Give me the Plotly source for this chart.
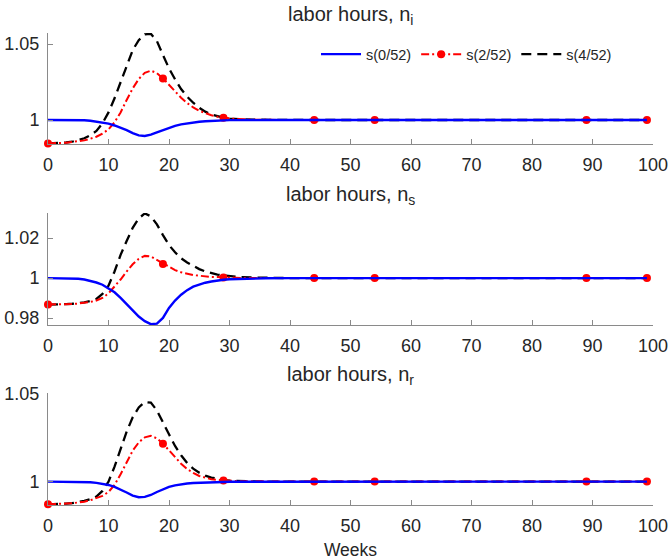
import plotly.graph_objects as go
from plotly.subplots import make_subplots

# ---------------- data ----------------
weeks = [0, 1, 2, 3, 4, 5, 6, 7, 8, 9, 10, 11, 12, 13, 14, 15, 16, 17, 18, 19,
         20, 21, 22, 23, 24, 25, 26, 27, 28, 29, 30, 31, 32, 34, 36, 40, 44, 54, 89, 99]
marker_weeks = [0, 19, 29, 44, 54, 89, 99]
series_names = ["s(0/52)", "s(2/52)", "s(4/52)"]
panel_titles = ["labor hours, n<sub>i</sub>", "labor hours, n<sub>s</sub>", "labor hours, n<sub>r</sub>"]
x_tick_vals = [0, 10, 20, 30, 40, 50, 60, 70, 80, 90, 100]

# panel 1: n_i
ni_s0 = [1.0, 1.0, 1.0, 1.0, 1.0, 1.0, 0.9998, 0.9995, 0.999, 0.9984, 0.9976, 0.9964, 0.995, 0.9933,
         0.9914, 0.9899, 0.9895, 0.9904, 0.9919, 0.9935, 0.995, 0.9962, 0.9971, 0.9978, 0.9984,
         0.9989, 0.9992, 0.9995, 0.9997, 0.9998, 0.9999, 0.9999, 1.0, 1.0, 1.0, 1.0, 1.0, 1.0, 1.0, 1.0]
ni_s2 = [0.9846, 0.9846, 0.9849, 0.9851, 0.9855, 0.986, 0.9866, 0.9877, 0.989, 0.991, 0.9939, 0.9985,
         1.005, 1.0132, 1.0208, 1.027, 1.0311, 1.0325, 1.0309, 1.0274, 1.023, 1.0186, 1.0147, 1.0112,
         1.0083, 1.0061, 1.0044, 1.0031, 1.0022, 1.0015, 1.0011, 1.0007, 1.0004, 1.0002, 1.0001,
         1.0, 1.0, 1.0, 1.0, 1.0]
ni_s4 = [0.9846, 0.9847, 0.9849, 0.9852, 0.9857, 0.9866, 0.988, 0.990, 0.9928, 0.9978, 1.005, 1.0143,
         1.0248, 1.0362, 1.046, 1.0526, 1.0564, 1.0568, 1.052, 1.0428, 1.034, 1.0268, 1.0204, 1.0154,
         1.0114, 1.0081, 1.0055, 1.0037, 1.0024, 1.0015, 1.0009, 1.0006, 1.0004, 1.0002, 1.0001,
         1.0, 1.0, 1.0, 1.0, 1.0]

# panel 2: n_s
ns_s0 = [1.0, 1.0, 1.0, 1.0, 0.9999, 0.9997, 0.9993, 0.9987, 0.9978, 0.9967, 0.995, 0.9929, 0.9901,
         0.9871, 0.9838, 0.9808, 0.9785, 0.977, 0.9773, 0.9801, 0.9851, 0.9888, 0.9917, 0.994, 0.9957,
         0.9969, 0.9977, 0.9983, 0.9988, 0.9992, 0.9994, 0.9995, 0.9997, 0.9998, 0.9999,
         1.0, 1.0, 1.0, 1.0, 1.0]
ns_s2 = [0.9868, 0.9868, 0.9869, 0.9869, 0.9871, 0.9873, 0.9876, 0.9881, 0.9888, 0.9901, 0.9924,
         0.9957, 0.9993, 1.0033, 1.0069, 1.0096, 1.0111, 1.0108, 1.0091, 1.0071, 1.0053, 1.004,
         1.0029, 1.0022, 1.0015, 1.0012, 1.0008, 1.0006, 1.0005, 1.0003, 1.0002, 1.0002, 1.0001,
         1.0001, 1.0, 1.0, 1.0, 1.0, 1.0, 1.0]
ns_s4 = [0.9868, 0.9868, 0.9869, 0.987, 0.9872, 0.9874, 0.9879, 0.9886, 0.9896, 0.9921, 0.9962,
         1.0033, 1.0116, 1.0185, 1.0251, 1.0298, 1.0323, 1.0309, 1.0268, 1.0215, 1.0165, 1.0129,
         1.0099, 1.0078, 1.006, 1.0045, 1.0033, 1.0025, 1.0018, 1.0013, 1.001, 1.0007, 1.0005,
         1.0003, 1.0001, 1.0, 1.0, 1.0, 1.0, 1.0]

# panel 3: n_r
nr_s0 = [1.0, 1.0, 1.0, 1.0, 1.0, 1.0, 0.9999, 0.9996, 0.9993, 0.9989, 0.9981, 0.997, 0.9955, 0.9938,
         0.992, 0.9911, 0.9913, 0.9924, 0.9941, 0.9956, 0.997, 0.9979, 0.9985, 0.9989, 0.9992,
         0.9994, 0.9996, 0.9997, 0.9998, 0.9998, 0.9999, 0.9999, 1.0, 1.0, 1.0, 1.0, 1.0, 1.0, 1.0, 1.0]
nr_s2 = [0.9871, 0.9871, 0.9873, 0.9875, 0.9877, 0.9881, 0.9886, 0.9894, 0.9905, 0.9919, 0.9941,
         0.9981, 1.0042, 1.011, 1.0176, 1.0223, 1.0252, 1.0261, 1.0246, 1.0216, 1.0178, 1.0138,
         1.0102, 1.0072, 1.0049, 1.0032, 1.0021, 1.0013, 1.0009, 1.0006, 1.0004, 1.0003, 1.0002,
         1.0001, 1.0, 1.0, 1.0, 1.0, 1.0, 1.0]
nr_s4 = [0.9871, 0.9871, 0.9873, 0.9875, 0.9878, 0.9883, 0.989, 0.990, 0.9915, 0.9947, 1.0, 1.0085,
         1.0189, 1.0284, 1.0366, 1.0422, 1.0453, 1.0449, 1.0405, 1.0341, 1.0269, 1.0203, 1.015,
         1.0106, 1.0074, 1.0051, 1.0034, 1.0023, 1.0015, 1.0009, 1.0006, 1.0004, 1.0002, 1.0001,
         1.0, 1.0, 1.0, 1.0, 1.0, 1.0]

panels = [(ni_s0, ni_s2, ni_s4), (ns_s0, ns_s2, ns_s4), (nr_s0, nr_s2, nr_s4)]
y_ranges = [[0.9842, 1.0573], [0.9766, 1.0325], [0.9867, 1.0504]]
y_tick_vals = [[1.0, 1.05], [0.98, 1.0, 1.02], [1.0, 1.05]]
y_tick_text = [["1", "1.05"], ["0.98", "1", "1.02"], ["1", "1.05"]]

# ---------------- style ----------------
FONT = "Liberation Sans, Arial, Helvetica, sans-serif"
TXT = "#262626"
AXC = "#8a8a8a"
BLUE = "#0000ff"
RED = "#ff0000"
BLACK = "#000000"

fig = make_subplots(rows=3, cols=1)

marker_colors = [RED if w in marker_weeks else "rgba(0,0,0,0)" for w in weeks]

for r, (s0, s2, s4) in enumerate(panels, start=1):
    first = (r == 1)
    fig.add_trace(go.Scatter(x=weeks, y=s4, mode="lines", name=series_names[2],
                             line=dict(color=BLACK, width=2.3, dash="10px,6px"),
                             showlegend=first, legendrank=3, cliponaxis=False), row=r, col=1)
    fig.add_trace(go.Scatter(x=weeks, y=s2, mode="lines+markers", name=series_names[1],
                             line=dict(color=RED, width=2, dash="8px,3px,2px,3px"),
                             marker=dict(color=marker_colors, size=8, line=dict(width=0)),
                             showlegend=first, legendrank=2, cliponaxis=False), row=r, col=1)
    fig.add_trace(go.Scatter(x=weeks, y=s0, mode="lines", name=series_names[0],
                             line=dict(color=BLUE, width=2.4),
                             showlegend=first, legendrank=1, cliponaxis=False), row=r, col=1)

domains = [[0.7648, 1.0], [0.3814, 0.6186], [0.0, 0.2373]]
for i in range(3):
    sfx = "" if i == 0 else str(i + 1)
    fig.layout["yaxis" + sfx].update(
        domain=domains[i], range=y_ranges[i], tickvals=y_tick_vals[i], ticktext=y_tick_text[i],
        showline=True, linecolor=AXC, linewidth=1, ticks="inside", ticklen=5, tickcolor=AXC,
        showgrid=False, zeroline=False, tickfont=dict(family=FONT, size=18, color=TXT),
        ticklabelstandoff=4, automargin=False)
    fig.layout["xaxis" + sfx].update(
        range=[0, 100], tickvals=x_tick_vals, showline=True, linecolor=AXC, linewidth=1,
        ticks="inside", ticklen=5, tickcolor=AXC, showgrid=False, zeroline=False,
        tickfont=dict(family=FONT, size=18, color=TXT), ticklabelstandoff=4, automargin=False)
    fig.add_annotation(text=panel_titles[i], xref="paper", yref="paper", x=0.5, y=domains[i][1],
                       yanchor="bottom", showarrow=False, yshift=3,
                       font=dict(family=FONT, size=20, color=TXT))

fig.layout.xaxis3.title = dict(text="Weeks", font=dict(family=FONT, size=17.5, color=TXT), standoff=10)

fig.update_layout(
    width=669, height=560,
    margin=dict(l=48, r=16, t=33, b=55),
    paper_bgcolor="white", plot_bgcolor="white",
    showlegend=True,
    legend=dict(orientation="h", x=0.443, y=0.955, xanchor="left", yanchor="middle",
                font=dict(family=FONT, size=14.5, color=TXT), bgcolor="rgba(0,0,0,0)",
                itemwidth=40, traceorder="normal"),
)

fig.write_html("out.html", config={"displayModeBar": False},
               post_script="document.body.style.margin='0px';")
